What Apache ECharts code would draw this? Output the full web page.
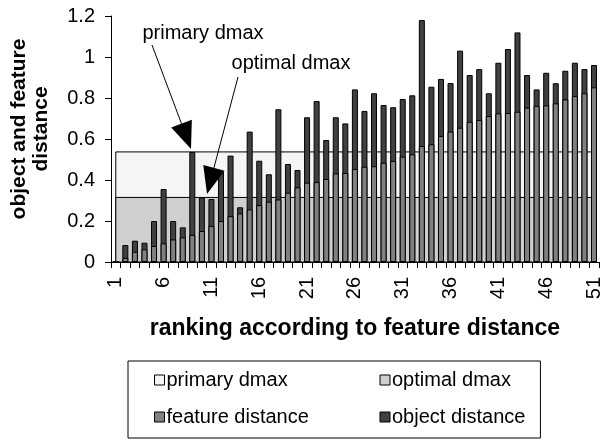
<!DOCTYPE html>
<html><head><meta charset="utf-8">
<script src="https://cdn.jsdelivr.net/npm/echarts/dist/echarts.min.js"></script>
<style>html,body{margin:0;padding:0;background:#fff}#c{width:604px;height:443px}</style>
</head><body><div id="c"></div>
<script>
const categories = ['1','2','3','4','5','6','7','8','9','10','11','12','13','14','15','16','17','18','19','20',
  '21','22','23','24','25','26','27','28','29','30','31','32','33','34','35','36','37','38','39','40',
  '41','42','43','44','45','46','47','48','49','50','51'];
const objectDistance = [0,0.083,0.104,0.094,0.20,0.356,0.20,0.169,0.537,0.315,
  0.307,0.44,0.519,0.267,0.636,0.494,0.428,0.745,0.478,0.449,
  0.706,0.785,0.595,0.706,0.676,0.842,0.737,0.823,0.766,0.755,
  0.795,0.813,1.18,0.855,0.893,0.873,1.031,0.912,0.941,0.823,
  0.972,1.039,1.12,0.912,0.842,0.923,0.872,0.933,0.972,0.941,0.961];
const featureDistance = [0,0.02,0.05,0.062,0.078,0.091,0.11,0.12,0.132,0.151,
  0.176,0.20,0.224,0.237,0.257,0.278,0.294,0.305,0.338,0.364,
  0.387,0.39,0.405,0.432,0.434,0.454,0.465,0.467,0.484,0.493,
  0.514,0.525,0.566,0.574,0.615,0.636,0.655,0.684,0.693,0.712,
  0.725,0.727,0.733,0.753,0.762,0.764,0.774,0.793,0.810,0.823,0.852];
const primaryDmax = 0.537;
const optimalDmax = 0.315;
const yTicks = {min: 0, max: 1.2, interval: 0.2};

const FONT = '"Liberation Sans", Arial, sans-serif';
const C_PRIMARY = '#f5f5f5', C_OPTIMAL = '#cfcfcf', C_FEATURE = '#808080', C_OBJECT = '#404040';

function areaRenderer(fill) {
  return function (params, api) {
    const p0 = api.coord([api.value(0), api.value(2)]);
    const p1 = api.coord([api.value(1), 0]);
    return {type: 'rect', shape: {x: p0[0], y: p0[1], width: p1[0] - p0[0], height: p1[1] - p0[1]},
      style: {fill: fill, stroke: '#000', lineWidth: 1}};
  };
}
function arrow(x0, y0, x1, y1) {
  const dx = x1 - x0, dy = y1 - y0, len = Math.hypot(dx, dy), ux = dx / len, uy = dy / len;
  const L = 27, W = 11;
  const bx = x1 - ux * L, by = y1 - uy * L;
  return [
    {type: 'line', shape: {x1: x0, y1: y0, x2: bx, y2: by}, style: {stroke: '#000', lineWidth: 1}, z: 100},
    {type: 'polygon', shape: {points: [[x1, y1], [bx - uy * W, by + ux * W], [bx + uy * W, by - ux * W]]}, style: {fill: '#000'}, z: 100}
  ];
}

const chart = echarts.init(document.getElementById('c'), null, {renderer: 'canvas'});
const option = {
  animation: false,
  backgroundColor: '#fff',
  grid: {left: 111, right: 4, top: 16, bottom: 181},
  xAxis: {
    type: 'category', data: categories, boundaryGap: true,
    axisLine: {show: true, lineStyle: {color: '#000', width: 1}},
    axisTick: {show: true, interval: 0, length: 6, inside: false, alignWithLabel: false, lineStyle: {color: '#000'}},
    axisLabel: {interval: 4, rotate: 90, margin: 15, fontFamily: FONT, fontSize: 20, color: '#000'},
    splitLine: {show: false},
    name: 'ranking according to feature distance', nameLocation: 'middle', nameGap: 55,
    nameTextStyle: {fontFamily: FONT, fontSize: 23, fontWeight: 'bold', color: '#000'}
  },
  yAxis: {
    type: 'value', min: yTicks.min, max: yTicks.max, interval: yTicks.interval,
    axisLine: {show: true, lineStyle: {color: '#000', width: 1}},
    axisTick: {show: true, length: 6, inside: false, lineStyle: {color: '#000'}},
    axisLabel: {margin: 16, fontFamily: FONT, fontSize: 20, color: '#000'},
    splitLine: {show: false}
  },
  legend: {
    left: 128, top: 361, width: 460,
    padding: [7, 15, 9, 26],
    borderColor: '#000', borderWidth: 1, backgroundColor: '#fff',
    itemWidth: 10, itemHeight: 10, itemGap: 13, icon: 'rect',
    selectedMode: false,
    textStyle: {fontFamily: FONT, fontSize: 20, color: '#000', lineHeight: 24, padding: [0, 0, 0, -3]},
    data: [
      {name: 'primary dmax', itemStyle: {color: C_PRIMARY, borderColor: '#000', borderWidth: 1}, textStyle: {width: 200}},
      {name: 'optimal dmax', itemStyle: {color: C_OPTIMAL, borderColor: '#000', borderWidth: 1}, textStyle: {width: 125}},
      {name: 'feature distance', itemStyle: {color: C_FEATURE, borderColor: '#000', borderWidth: 1}, textStyle: {width: 200}},
      {name: 'object distance', itemStyle: {color: C_OBJECT, borderColor: '#000', borderWidth: 1}, textStyle: {width: 125}}
    ]
  },
  series: [
    {name: 'primary dmax', type: 'custom', z: 1, itemStyle: {color: C_PRIMARY},
      renderItem: areaRenderer(C_PRIMARY), encode: {x: [0, 1], y: 2},
      data: [[categories[0], categories[categories.length - 1], primaryDmax]]},
    {name: 'optimal dmax', type: 'custom', z: 1, itemStyle: {color: C_OPTIMAL},
      renderItem: areaRenderer(C_OPTIMAL), encode: {x: [0, 1], y: 2},
      data: [[categories[0], categories[categories.length - 1], optimalDmax]]},
    {name: 'object distance', type: 'bar', z: 2, data: objectDistance, barWidth: 6, barGap: '-100%',
      itemStyle: {color: C_OBJECT, borderColor: '#000', borderWidth: 1}},
    {name: 'feature distance', type: 'bar', z: 3, data: featureDistance, barWidth: 6, barGap: '-100%',
      itemStyle: {color: C_FEATURE, borderColor: '#000', borderWidth: 1}}
  ],
  graphic: [
    {type: 'text', x: 30, y: 129, rotation: Math.PI / 2,
      style: {text: 'object and feature\ndistance', font: 'bold 21px ' + FONT, align: 'center', verticalAlign: 'middle', lineHeight: 22, fill: '#000'}},
    {type: 'text', x: 203, y: 33, style: {text: 'primary dmax', font: '20px ' + FONT, align: 'center', verticalAlign: 'middle', fill: '#000'}, z: 100},
    {type: 'text', x: 291, y: 63, style: {text: 'optimal dmax', font: '20px ' + FONT, align: 'center', verticalAlign: 'middle', fill: '#000'}, z: 100}
  ].concat(arrow(152, 45, 191, 149)).concat(arrow(238, 77, 207, 194))
};
chart.setOption(option);
</script></body></html>
